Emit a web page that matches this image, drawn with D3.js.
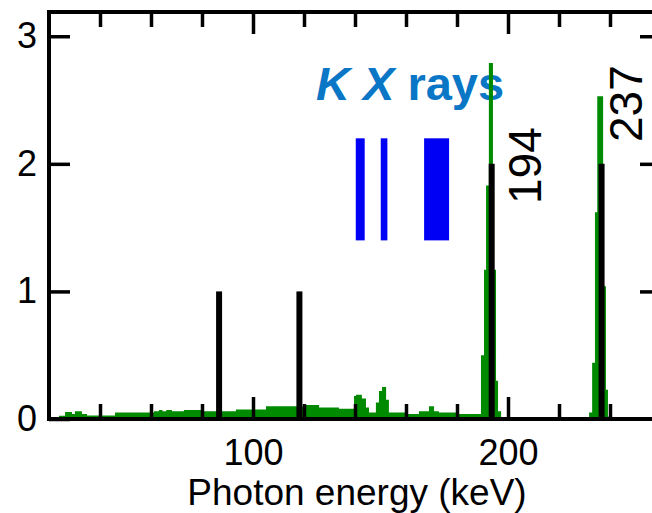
<!DOCTYPE html>
<html>
<head>
<meta charset="utf-8">
<script src="https://cdn.jsdelivr.net/npm/d3@7"></script>
<style>
  body { margin: 0; background: #fff; }
  svg { display: block; font-family: "Liberation Sans", Arial, Helvetica, sans-serif; }
</style>
</head>
<body>
<div id="chart"></div>
<script>
// measured spectrum, piecewise constant: bin start energy (keV) and counts
const binStart = [20, 23.9, 26.3, 29.0, 30.2, 32.9, 34.9, 45.9, 61.2, 63.1, 64.5, 66.0, 68.2, 72.9, 80.0,
    93.3, 105.1, 119.6, 125.9, 133.7, 139.6, 140.4, 142.7, 144.3, 145.5, 148.2, 149.4, 150.6, 152.2,
    153.3, 160.4, 165.1, 169.0, 171.0, 172.9, 180.0, 189.4, 190.6, 191.4, 192.5, 194.1, 195.3, 196.1,
    197.3, 231.8, 233.0, 234.1, 235.0, 237.3, 238.4, 239.2, 240.4];
const binCounts = [0, 0.025, 0.055, 0.04, 0.06, 0.04, 0.028, 0.05, 0.06, 0.07, 0.06, 0.07, 0.06, 0.07, 0.06,
    0.075, 0.1, 0.11, 0.09, 0.08, 0.18, 0.19, 0.16, 0.09, 0.05, 0.13, 0.22, 0.25, 0.15,
    0.05, 0.04, 0.06, 0.1, 0.06, 0.05, 0.04, 0.5, 1.17, 1.83, 2.79, 1.17, 0.3, 0.06,
    0.015, 0.05, 0.44, 1.62, 2.53, 1.04, 0.23, 0.02, 0];

// gamma lines
const lineEnergy = [86.7, 118.2, 193.6, 236.7];
const lineIntensity = [1, 1, 2, 2];

// K x-ray bands (keV) and their drawn extent in counts
const xrayBands = [[140.3, 143.8], [150.1, 152.7], [167.1, 176.9]];
const xrayRange = [1.4, 2.2];

const peakLabels = ["194", "237"];
const yTicks = [0, 1, 2, 3];
const xMajor = [100, 200];
const xMinor = [40, 60, 80, 120, 140, 160, 180, 220, 240];

const svg = d3.select("#chart").append("svg")
    .attr("width", 652)
    .attr("height", 513);

const x = d3.scaleLinear().domain([20, 260]).range([49, 661]);
const y = d3.scaleLinear().domain([0, 3.19]).range([419, 12]);

const spectrum = binStart.map((e, i) => ({ e: e, c: binCounts[i] }));
spectrum.push({ e: 260, c: 0 });

// label text goes under the spectrum
const kx = svg.append("text")
    .attr("x", 316)
    .attr("y", 100)
    .attr("fill", "#0a76c6")
    .attr("font-weight", "bold")
    .style("font-size", "47px");
kx.append("tspan").attr("font-style", "italic").text("K");
kx.append("tspan").text(" ");
kx.append("tspan").attr("font-style", "italic").text("X");
kx.append("tspan").text(" rays");

// blue x-ray bars
svg.selectAll(".xray")
    .data(xrayBands)
    .join("rect")
    .attr("class", "xray")
    .attr("x", d => x(d[0]))
    .attr("width", d => x(d[1]) - x(d[0]))
    .attr("y", y(xrayRange[1]))
    .attr("height", y(xrayRange[0]) - y(xrayRange[1]))
    .attr("fill", "#0000f5");

const area = d3.area()
    .curve(d3.curveStepAfter)
    .x(d => x(d.e))
    .y0(y(0))
    .y1(d => y(d.c));

svg.append("path")
    .datum(spectrum)
    .attr("d", area)
    .attr("fill", "#008a00");

svg.selectAll(".gline")
    .data(lineEnergy)
    .join("line")
    .attr("class", "gline")
    .attr("x1", d => x(d))
    .attr("x2", d => x(d))
    .attr("y1", y(0))
    .attr("y2", (d, i) => y(lineIntensity[i]))
    .attr("stroke", "#000")
    .attr("stroke-width", 6);

// axes: ticks point inward, frame drawn as a rect
function styleAxis(g) {
    g.select(".domain").remove();
    g.selectAll(".tick line").attr("stroke", "#000").attr("stroke-width", 3.5);
    g.selectAll(".tick text").attr("fill", "#000").style("font-size", "36px").attr("font-family", null);
}

svg.append("g")
    .attr("transform", `translate(0,${y(0)})`)
    .call(d3.axisBottom(x).tickValues(xMinor).tickSize(-15).tickFormat(""))
    .call(styleAxis);
svg.append("g")
    .attr("transform", `translate(0,${y(0)})`)
    .call(d3.axisBottom(x).tickValues(xMajor).tickSize(-22).tickPadding(20).tickFormat(d3.format("d")))
    .call(styleAxis);
svg.append("g")
    .attr("transform", "translate(0,12)")
    .call(d3.axisTop(x).tickValues(xMinor).tickSize(-15).tickFormat(""))
    .call(styleAxis);
svg.append("g")
    .attr("transform", "translate(0,12)")
    .call(d3.axisTop(x).tickValues(xMajor).tickSize(-22).tickFormat(""))
    .call(styleAxis);
svg.append("g")
    .attr("transform", "translate(49,0)")
    .call(d3.axisLeft(y).tickValues(yTicks).tickSize(-21).tickPadding(12).tickFormat(d3.format("d")))
    .call(styleAxis);
svg.append("g")
    .attr("transform", "translate(661,0)")
    .call(d3.axisRight(y).tickValues(yTicks.slice(1)).tickSize(-21).tickFormat(""))
    .call(styleAxis);

svg.append("rect")
    .attr("x", 49)
    .attr("y", 12)
    .attr("width", 612)
    .attr("height", 407)
    .attr("fill", "none")
    .attr("stroke", "#000")
    .attr("stroke-width", 4);

// peak labels, rotated
const labelPos = [[541, 204], [642, 142]];
svg.selectAll(".plabel")
    .data(peakLabels)
    .join("text")
    .attr("class", "plabel")
    .attr("transform", (d, i) => `translate(${labelPos[i][0]},${labelPos[i][1]}) rotate(-90)`)
    .style("font-size", "46px")
    .attr("fill", "#000")
    .text(d => d);

svg.append("text")
    .attr("x", 357)
    .attr("y", 505)
    .attr("text-anchor", "middle")
    .style("font-size", "37px")
    .attr("fill", "#000")
    .text("Photon energy (keV)");
</script>
</body>
</html>
